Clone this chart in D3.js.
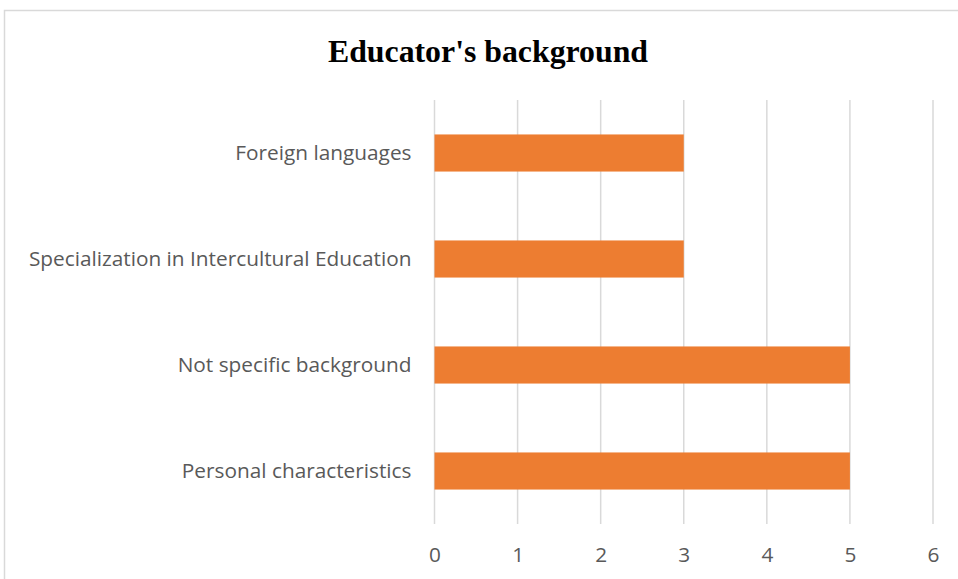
<!DOCTYPE html>
<html>
<head>
<meta charset="utf-8">
<script src="https://cdn.jsdelivr.net/npm/d3@7"></script>
<style>
  html, body { margin: 0; padding: 0; background: #fff; }
  svg { display: block; }
</style>
</head>
<body>
<svg id="chart" width="958" height="579"></svg>
<script>
// Categories listed top to bottom, with their counts
const categories = [
  "Foreign languages",
  "Specialization in Intercultural Education",
  "Not specific background",
  "Personal characteristics"
];
const values = [3, 3, 5, 5];
const xTicks = [0, 1, 2, 3, 4, 5, 6];
const title = "Educator's background";

const svg = d3.select("#chart");
const W = 958, H = 579;
const plot = { left: 434.5, right: 933, top: 100, bottom: 524 };
const labelFont = "'Open Sans', sans-serif";

// Outer chart frame
svg.append("rect")
  .attr("x", 4.5).attr("y", 10.5)
  .attr("width", W + 10).attr("height", H + 10)
  .attr("fill", "#fff")
  .attr("stroke", "#d9d9d9").attr("stroke-width", 1.5);

const x = d3.scaleLinear().domain([0, 6]).range([plot.left, plot.right]);
const y = d3.scaleBand().domain(categories)
  .range([plot.top, plot.bottom])
  .paddingInner(0.65).paddingOuter(0.325);

// Vertical gridlines
svg.append("g")
  .selectAll("line")
  .data(xTicks)
  .join("line")
  .attr("x1", d => x(d)).attr("x2", d => x(d))
  .attr("y1", plot.top).attr("y2", plot.bottom)
  .attr("stroke", "#d9d9d9").attr("stroke-width", 1.5);

// Bars
svg.append("g")
  .selectAll("rect")
  .data(categories)
  .join("rect")
  .attr("x", x(0))
  .attr("y", d => y(d))
  .attr("width", (d, i) => x(values[i]) - x(0))
  .attr("height", y.bandwidth())
  .attr("fill", "#ED7D31");

// Bottom axis tick labels
const xAxis = d3.axisBottom(x).tickValues(xTicks).tickSize(0).tickPadding(0).tickFormat(d3.format("d"));
const gx = svg.append("g")
  .attr("transform", `translate(0,${plot.bottom + 23})`)
  .call(xAxis);
gx.select(".domain").remove();
gx.selectAll("text")
  .attr("dy", "0.71em")
  .attr("font-family", labelFont)
  .attr("font-size", 20.8)
  .attr("fill", "#595959");

// Category labels
const yAxis = d3.axisLeft(y).tickSize(0).tickPadding(23);
const gy = svg.append("g")
  .attr("transform", `translate(${plot.left},0)`)
  .call(yAxis);
gy.select(".domain").remove();
gy.selectAll("text")
  .attr("font-family", labelFont)
  .attr("font-size", 20.8)
  .attr("fill", "#595959");

// Title
svg.append("text")
  .attr("x", 488).attr("y", 62)
  .attr("text-anchor", "middle")
  .attr("font-family", "'Liberation Serif', 'Times New Roman', serif")
  .attr("font-weight", "bold")
  .attr("font-size", 31.8)
  .attr("fill", "#000")
  .text(title);
</script>
</body>
</html>
